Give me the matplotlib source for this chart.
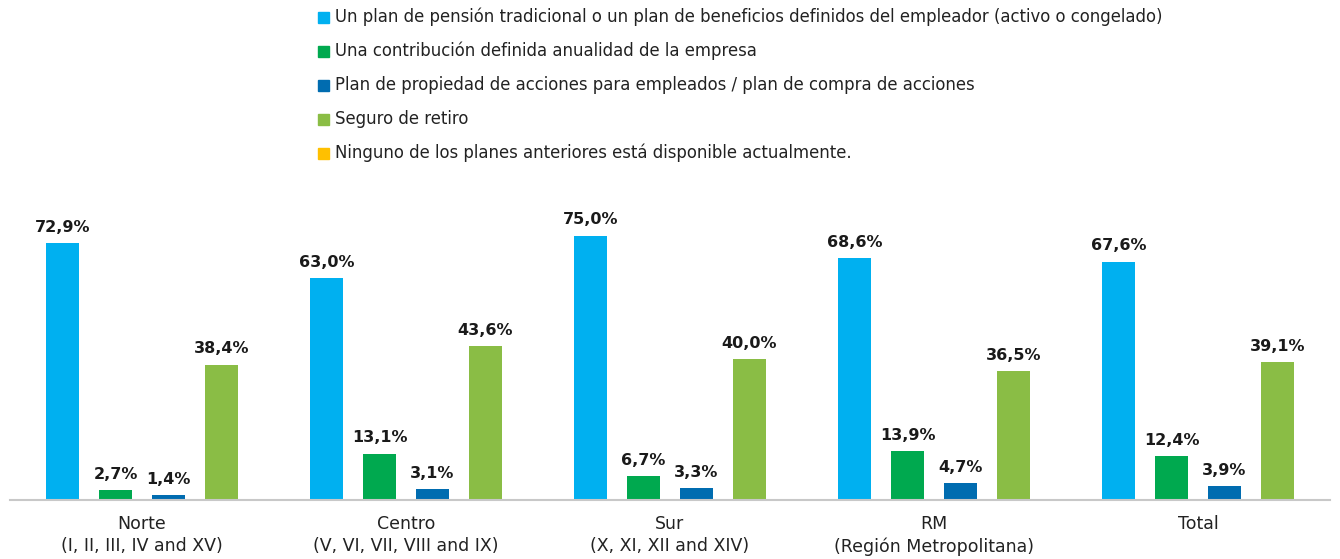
import matplotlib
matplotlib.use("Agg")
import matplotlib.pyplot as plt
from matplotlib.patches import Rectangle
import numpy as np

categories = ["Norte\n(I, II, III, IV and XV)",
              "Centro\n(V, VI, VII, VIII and IX)",
              "Sur\n(X, XI, XII and XIV)",
              "RM\n(Región Metropolitana)",
              "Total"]
series_names = [
    "Un plan de pensión tradicional o un plan de beneficios definidos del empleador (activo o congelado)",
    "Una contribución definida anualidad de la empresa",
    "Plan de propiedad de acciones para empleados / plan de compra de acciones",
    "Seguro de retiro",
    "Ninguno de los planes anteriores está disponible actualmente.",
]
pension_tradicional = [72.9, 63.0, 75.0, 68.6, 67.6]
contribucion_definida = [2.7, 13.1, 6.7, 13.9, 12.4]
propiedad_acciones = [1.4, 3.1, 3.3, 4.7, 3.9]
seguro_retiro = [38.4, 43.6, 40.0, 36.5, 39.1]
series_values = [pension_tradicional, contribucion_definida, propiedad_acciones, seguro_retiro]
colors = ["#00B0F0", "#00A94F", "#006CB0", "#8ABD45", "#FFC000"]

W, H = 1340, 559
fig = plt.figure(figsize=(W / 100, H / 100), dpi=100)
ax = fig.add_axes([10 / W, (H - 500) / H, 1320 / W, 282 / H])

x = np.arange(len(categories))
offsets = [-0.3, -0.1, 0.1, 0.3]
bw = 0.125
for vals, off, col in zip(series_values, offsets, colors):
    bars = ax.bar(x + off, vals, width=bw, color=col, zorder=2)
    for b, v in zip(bars, vals):
        ax.annotate(f"{v:.1f}%".replace(".", ","),
                    (b.get_x() + b.get_width() / 2, v),
                    xytext=(0, 6), textcoords="offset points",
                    ha="center", va="bottom", fontsize=11.5, fontweight="bold",
                    color="#1a1a1a")

ax.set_xlim(-0.5, len(categories) - 0.5)
ax.set_ylim(0, 80)
ax.set_xticks(x)
ax.set_xticklabels(categories, fontsize=12.5, color="#222222", linespacing=1.3)
ax.tick_params(axis="x", length=0, pad=11)
ax.set_yticks([])
for s in ["top", "left", "right"]:
    ax.spines[s].set_visible(False)
ax.spines["bottom"].set_color("#C8C8C8")
ax.spines["bottom"].set_linewidth(1.5)

# legend
row_y = [17, 51, 85, 119, 153]
for name, col, yy in zip(series_names, colors, row_y):
    fig.patches.append(Rectangle((318 / W, (H - yy - 6) / H), 11 / W, 11 / H,
                                 transform=fig.transFigure, color=col))
    fig.text(335 / W, (H - yy) / H, name, ha="left", va="center",
             fontsize=11.9, color="#222222")

fig.savefig("out.png", dpi=100)
